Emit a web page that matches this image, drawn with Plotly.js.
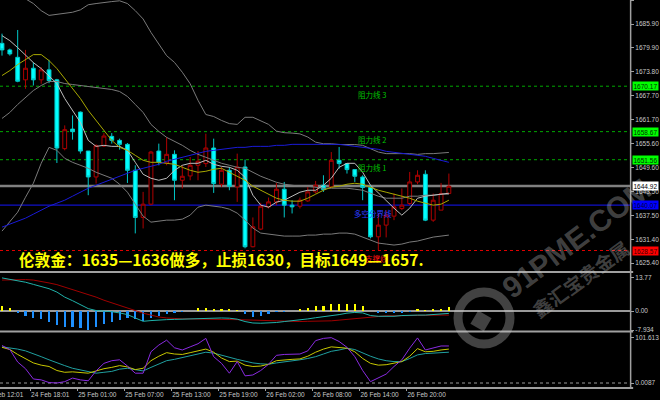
<!DOCTYPE html>
<html><head><meta charset="utf-8">
<script src="https://cdn.plot.ly/plotly-3.0.1.min.js"></script>
<style>html,body{margin:0;padding:0;background:#000;}</style>
</head><body><div id="chart" style="width:660px;height:400px;"></div>
<script>
// ---- candles (hourly) ----
const openP  = [1681.03,1679.36,1677.49,1671.79,1674.72,1671.79,1674.31,1671.79,1654.37,1659.31,1663.61,1653.76,1647.19,1655.02,1657.47,1656.46,1655.45,1648.88,1636.94,1640.30,1653.76,1650.73,1652.92,1646.36,1647.45,1650.15,1650.58,1654.52,1645.35,1648.88,1644.67,1649.72,1629.52,1633.99,1639.62,1640.88,1644.09,1640.05,1639.79,1641.13,1643.41,1645.10,1644.67,1651.41,1650.58,1649.06,1647.19,1644.52,1632.04,1635.00,1637.27,1639.21,1640.48,1645.93,1647.87,1636.26,1638.79,1643.00];
const highP  = [1683.48,1679.69,1684.41,1679.36,1676.23,1674.97,1676.84,1672.04,1660.25,1662.77,1663.78,1653.76,1655.45,1658.30,1658.30,1656.89,1655.78,1650.15,1643.41,1653.80,1655.63,1657.29,1653.94,1650.15,1652.24,1653.76,1658.15,1656.89,1649.72,1649.72,1653.10,1651.59,1636.94,1640.63,1641.99,1645.68,1645.93,1641.31,1641.99,1644.67,1646.18,1647.62,1653.50,1654.77,1650.58,1649.06,1647.62,1645.10,1637.95,1638.79,1643.00,1644.27,1648.46,1648.88,1648.88,1643.00,1645.68,1648.05];
const lowP   = [1677.92,1677.92,1671.18,1669.51,1670.35,1670.78,1670.93,1650.73,1653.94,1656.64,1653.10,1642.57,1645.52,1654.77,1655.63,1654.11,1645.68,1632.90,1634.16,1640.05,1650.15,1650.15,1641.31,1644.27,1646.36,1646.36,1649.72,1643.15,1644.67,1643.83,1640.88,1629.12,1629.37,1633.73,1639.21,1640.05,1636.94,1637.95,1639.21,1640.88,1643.00,1643.41,1644.52,1649.31,1648.05,1645.93,1641.31,1631.64,1628.69,1631.89,1636.26,1638.79,1640.05,1645.35,1636.01,1635.83,1638.79,1643.00];
const closeP = [1679.36,1678.35,1671.43,1674.72,1671.79,1674.31,1671.61,1654.52,1659.16,1658.66,1653.76,1647.19,1655.12,1657.55,1656.46,1655.45,1648.88,1636.94,1640.30,1653.50,1650.98,1652.92,1646.36,1647.37,1650.15,1651.16,1654.52,1645.53,1648.88,1644.84,1649.72,1629.52,1634.57,1639.79,1640.88,1644.09,1640.05,1639.62,1641.31,1643.41,1645.10,1644.01,1651.41,1650.58,1649.06,1647.37,1644.52,1632.04,1635.00,1637.52,1639.62,1640.05,1645.93,1647.62,1636.26,1641.31,1643.00,1644.84];

// ---- overlays on price panel ----
const bbUpper = [1694.0,1693.5,1693.0,1692.3,1691.1,1689.3,1688.1,1688.4,1688.6,1688.9,1689.5,1690.8,1691.1,1691.4,1691.6,1691.8,1691.1,1689.3,1687.2,1683.8,1680.9,1677.9,1676.2,1673.7,1670.8,1666.6,1663.0,1662.5,1661.5,1660.7,1660.5,1662.3,1662.3,1661.5,1660.5,1658.8,1658.4,1658.3,1658.1,1657.3,1656.0,1655.6,1655.6,1655.4,1655.4,1655.4,1655.2,1654.4,1653.5,1653.1,1653.1,1653.1,1653.1,1652.9,1653.1,1653.1,1653.3,1653.4];
const bbMid   = [1662.01,1663.53,1665.55,1667.32,1669.08,1670.35,1671.36,1671.36,1670.85,1670.60,1670.35,1670.09,1669.84,1669.59,1669.34,1668.83,1667.57,1665.55,1663.53,1660.50,1658.73,1657.22,1656.21,1655.20,1653.93,1652.92,1652.17,1651.41,1650.65,1650.15,1649.64,1649.39,1648.38,1647.37,1646.61,1645.85,1645.35,1645.10,1644.84,1644.84,1644.59,1644.34,1644.34,1644.34,1644.34,1644.09,1643.83,1643.08,1642.32,1641.81,1641.81,1641.81,1642.32,1642.32,1642.57,1642.57,1642.82,1642.82];
const bbLower = [1633.48,1635.75,1638.28,1642.07,1645.60,1650.65,1654.69,1653.93,1651.91,1650.90,1650.15,1649.39,1648.38,1647.62,1646.86,1645.35,1643.33,1640.30,1637.27,1635.75,1636.01,1636.26,1636.26,1636.51,1637.52,1639.54,1640.05,1639.79,1639.54,1639.04,1638.03,1636.26,1634.24,1632.98,1632.72,1632.47,1632.22,1632.22,1632.22,1632.47,1632.47,1632.72,1632.72,1632.98,1632.98,1632.72,1631.97,1631.21,1630.45,1630.20,1629.95,1630.20,1630.70,1630.96,1631.46,1631.97,1632.22,1632.47];
const maFast  = [1682.97,1681.71,1679.94,1678.17,1676.15,1674.64,1672.87,1670.85,1667.06,1664.03,1661.00,1656.46,1654.94,1655.20,1654.94,1654.94,1653.93,1650.90,1647.87,1646.86,1646.36,1646.86,1648.88,1650.15,1650.65,1650.65,1651.41,1650.40,1649.89,1649.64,1648.88,1647.12,1642.57,1640.05,1639.54,1640.80,1641.31,1642.32,1643.33,1643.83,1643.83,1645.10,1646.86,1649.64,1650.65,1650.65,1648.38,1645.10,1643.08,1641.31,1639.29,1637.52,1639.29,1641.81,1642.32,1642.57,1642.82,1643.08];
const maMid   = [1672.87,1674.13,1675.65,1676.91,1678.17,1678.17,1676.66,1674.64,1672.11,1669.59,1667.06,1664.03,1661.51,1658.98,1656.46,1654.69,1653.93,1652.67,1651.41,1650.90,1650.90,1650.65,1650.40,1649.64,1648.88,1648.38,1648.63,1649.14,1649.39,1648.38,1647.37,1646.36,1644.84,1643.83,1642.82,1641.81,1641.31,1641.06,1641.06,1641.81,1642.82,1643.83,1644.59,1644.84,1645.35,1645.60,1645.35,1644.59,1643.83,1643.33,1642.82,1642.32,1641.81,1641.06,1640.55,1640.05,1640.30,1641.31];
const maSlow  = [1634.49,1635.25,1636.01,1636.76,1637.77,1638.78,1639.79,1640.55,1641.31,1642.32,1643.33,1644.34,1645.10,1645.85,1646.61,1647.37,1648.13,1648.88,1649.39,1649.89,1650.40,1651.16,1651.66,1652.17,1652.67,1653.18,1653.68,1653.93,1654.19,1654.44,1654.69,1654.69,1654.94,1654.94,1654.94,1655.20,1655.20,1655.45,1655.45,1655.45,1655.45,1655.45,1655.45,1655.45,1655.20,1654.94,1654.69,1654.44,1654.19,1653.68,1653.43,1653.18,1652.92,1652.67,1652.42,1651.91,1651.41,1650.90];

// ---- MACD panel ----
const macdHist   = [2.2,1.1,-0.7,-2.0,-3.1,-3.5,-4.4,-5.8,-6.5,-6.5,-6.9,-7.93,-6.5,-5.6,-4.4,-3.75,-3.1,-3.5,-4.2,-3.1,-2.0,-1.4,-1.0,-0.6,0.1,1.1,1.4,0.8,0.8,0.7,0.5,-1.4,-2.3,-2.0,-1.4,-0.6,-0.3,0.1,0.8,1.4,2.2,1.9,2.8,2.9,2.9,2.8,2.0,0.1,-0.9,-1.0,-1.0,-0.8,-0.4,1.0,0.6,0.8,1.0,1.5];
const macdMain   = [13.8,13.3,12.8,12.0,11.1,10.2,9.3,7.9,5.8,4.3,2.5,1.0,0.2,0.0,-0.3,-0.8,-1.5,-2.9,-4.3,-4.0,-3.7,-3.6,-3.5,-3.4,-3.2,-2.9,-2.8,-2.8,-2.9,-3.0,-3.4,-4.4,-5.0,-5.1,-5.0,-4.8,-4.4,-4.1,-3.75,-3.3,-2.8,-2.4,-2.1,-1.5,-0.9,-0.6,-0.8,-1.9,-2.2,-2.3,-2.2,-1.9,-1.7,-1.7,-1.7,-1.5,-1.2,-1.0];
const macdSignal = [12.9,13.0,13.1,13.1,12.9,12.4,11.7,11.0,10.0,9.0,8.0,6.9,5.8,4.5,3.4,2.4,1.2,0.2,-0.9,-1.7,-2.5,-2.9,-3.2,-3.3,-3.3,-3.3,-3.3,-3.3,-3.4,-3.5,-3.6,-3.7,-3.8,-4.0,-4.2,-4.4,-4.4,-4.4,-4.4,-4.3,-4.3,-4.2,-4.1,-3.8,-3.5,-3.1,-2.8,-2.5,-2.2,-2.0,-2.0,-1.9,-1.8,-1.8,-1.7,-1.7,-1.7,-1.7];

// ---- oscillator panel ----
const oscFast = [84,75,47,32,9,7,1,0,3,11,7,5,27,44,50,52,38,22,22,70,85,96,79,74,81,88,100,59,44,22,48,16,18,28,42,62,64,64,65,72,95,100,101.6,93,80,59,28,3,12,20,37,52,78,101,74,78,83,83];
const oscMid  = [80,75,64,55,45,40,37,28,24,25,24,22,27,32,35,39,36,30,33,50,60,68,65,64,68,72,76,69,56,48,49,40,37,38,42,50,52,53,54,60,69,76,81,80,78,70,55,44,40,41,44,48,60,77,70,71,74,76];
const oscSlow = [81,79,76,72,66,59,52,45,39,33,29,26,22,24,26,31,33,30,27,35,42,50,53,57,60,65,69,67,62,57,53,49,45,43,42,45,47,50,52,55,59,65,71,74,78,75,67,60,54,50,48,48,55,63,66,67,68,69];

// ---- axes / labels ----
const timeTickBars = [4,10,16,22,28,34,40,46,52];
const timeTickText = ["24 Feb 18:01","25 Feb 01:00","25 Feb 07:00","25 Feb 13:00","25 Feb 19:00","26 Feb 02:00","26 Feb 08:00","26 Feb 14:00","26 Feb 20:00"];
const firstTimeLabel = "24 Feb 12:01";
const priceTicks = [1692.00,1685.90,1679.90,1673.80,1667.70,1661.70,1655.60,1649.60,1643.50,1637.50,1631.40,1625.40];
const macdTicks = [13.77,0,-7.934];
const macdTickText = ["13.77","0.00","-7.934"];
const oscTicks = [101.613,0.0087];
const oscTickText = ["101.613","0.0087"];

const levelVals  = [1670.17,1658.67,1651.56,1644.92,1640.07,1628.57];
const levelNames = ["阻力线 3","阻力线 2","阻力线 1","","多空分界线","支撑线"];
const noteText = "伦敦金：1635—1636做多，止损1630，目标1649—1657.";

// ---- styles ----
const levelStyle = [
  {c:'#00a800', w:1, d:'dot', bg:'#00ff00', tc:'#003000', lx:356},
  {c:'#00a800', w:1, d:'dot', bg:'#00ff00', tc:'#003000', lx:356},
  {c:'#00a800', w:1, d:'dot', bg:'#00ff00', tc:'#003000', lx:356},
  {c:'#808080', w:2.5, d:'solid', bg:'#ffffff', tc:'#000000', lx:0},
  {c:'#1010c8', w:1.2, d:'solid', bg:'#0000ff', tc:'#000040', lx:352},
  {c:'#e00000', w:1, d:'dot', bg:'#ff0000', tc:'#400000', lx:363}
];
const labelColor = ['#00c000','#00c000','#00c000','','#2a3cff','#ff1010'];

const xs = closeP.map((_, i) => i);
const PW = 630, PH = 388;
const tickFont = {family:'Liberation Sans, Arial, sans-serif', size:6.5, color:'#c8c8c8'};

const traces = [];
traces.push({type:'candlestick', x:xs, open:openP, high:highP, low:lowP, close:closeP,
  increasing:{line:{color:'#b00000', width:1}, fillcolor:'#000000'},
  decreasing:{line:{color:'#00c8c8', width:1}, fillcolor:'#00ffff'},
  whiskerwidth:0, xaxis:'x', yaxis:'y', hoverinfo:'skip'});
const lineDefs = [
  [bbUpper,'#7a7a7a',1],[bbMid,'#7a7a7a',1],[bbLower,'#7a7a7a',1],
  [maFast,'#bdbdbd',1],[maMid,'#a8a800',1],[maSlow,'#1a1ad8',1]
];
lineDefs.forEach(([arr,c,w]) => traces.push({type:'scatter', mode:'lines', x:xs, y:arr,
  line:{color:c, width:w}, xaxis:'x', yaxis:'y', hoverinfo:'skip'}));

traces.push({type:'bar', x:xs, y:macdHist, width:0.28,
  marker:{color:macdHist.map(v => v >= 0 ? '#ffff00' : '#1e90ff'), line:{width:0}},
  xaxis:'x', yaxis:'y2', hoverinfo:'skip'});
traces.push({type:'scatter', mode:'lines', x:xs, y:macdSignal, line:{color:'#a00000', width:1}, xaxis:'x', yaxis:'y2'});
traces.push({type:'scatter', mode:'lines', x:xs, y:macdMain, line:{color:'#20b2aa', width:1}, xaxis:'x', yaxis:'y2'});

traces.push({type:'scatter', mode:'lines', x:xs, y:oscSlow, line:{color:'#20a0a0', width:1}, xaxis:'x', yaxis:'y3'});
traces.push({type:'scatter', mode:'lines', x:xs, y:oscMid, line:{color:'#c8c800', width:1}, xaxis:'x', yaxis:'y3'});
traces.push({type:'scatter', mode:'lines', x:xs, y:oscFast, line:{color:'#8a2be2', width:1}, xaxis:'x', yaxis:'y3'});

const shapes = [];
levelVals.forEach((v,i) => shapes.push({type:'line', xref:'paper', x0:0, x1:1, yref:'y', y0:v, y1:v,
  line:{color:levelStyle[i].c, width:levelStyle[i].w, dash:levelStyle[i].d}, layer:'below'}));
shapes.push({type:'line', xref:'paper', x0:0, x1:1, yref:'y2', y0:0, y1:0, line:{color:'#9a9a9a', width:2}, layer:'below'});
shapes.push({type:'line', xref:'paper', x0:0, x1:1, yref:'y3', y0:oscTicks[1], y1:oscTicks[1], line:{color:'#9a9a9a', width:1, dash:'dot'}, layer:'below'});
// panel frame
[272, 331.5, 388].forEach(py => shapes.push({type:'line', xref:'paper', yref:'paper', x0:0, x1:1.005,
  y0:(PH-py)/PH, y1:(PH-py)/PH, line:{color:'#a0a0a0', width:2}}));
shapes.push({type:'line', xref:'paper', yref:'paper', x0:1.001, x1:1.001, y0:0, y1:1, line:{color:'#a0a0a0', width:1.5}});
// watermark logo
const wm = 'rgba(200,200,200,0.33)';
shapes.push({type:'circle', xref:'paper', yref:'paper', x0:458/PW, x1:510/PW, y0:(PH-344)/PH, y1:(PH-292)/PH,
  line:{color:wm, width:9}});
shapes.push({type:'path', xref:'paper', yref:'paper',
  path:`M ${491.6/PW} ${(PH-318.2)/PH} L ${478.2/PW} ${(PH-310.4)/PH} L ${470.4/PW} ${(PH-323.8)/PH} L ${483.8/PW} ${(PH-331.6)/PH} Z`,
  fillcolor:wm, line:{width:0}});

const ann = [];
// watermark text
ann.push({xref:'paper', yref:'paper', x:576/PW, y:(PH-238)/PH, xanchor:'center', yanchor:'middle', text:'91PME.COM',
  showarrow:false, textangle:-37, font:{family:'Liberation Sans, Arial', size:30, color:wm, weight:'bold'}});
ann.push({xref:'paper', yref:'paper', x:580/PW, y:(PH-278)/PH, xanchor:'center', yanchor:'middle', text:'鑫汇宝贵金属',
  showarrow:false, textangle:-36, font:{family:'Noto Sans CJK SC', size:19, color:wm, weight:'bold'}});
// level labels and right-axis price boxes
levelVals.forEach((v,i) => {
  if (levelNames[i]) ann.push({xref:'paper', yref:'y', x:levelStyle[i].lx/PW, y:v, xanchor:'left', yanchor:'top',
    text:levelNames[i], showarrow:false, yshift:-0.5, font:{family:'Noto Sans CJK SC', size:7.5, color:labelColor[i]}});
  ann.push({xref:'paper', yref:'y', x:1, y:v, xanchor:'left', yanchor:'middle', xshift:2, text:v.toFixed(2),
    showarrow:false, bgcolor:levelStyle[i].bg, borderpad:0.5,
    font:{family:'Liberation Sans, Arial', size:6.5, color:levelStyle[i].tc}});
});
ann.push({xref:'paper', yref:'paper', x:17/PW, y:(PH-258.5)/PH, xanchor:'left', yanchor:'middle', text:noteText,
  showarrow:false, font:{family:'Noto Sans CJK SC', size:15.6, color:'#ffff00', weight:'bold'}});
ann.push({xref:'paper', yref:'paper', x:-17/PW, y:(PH-394)/PH, xanchor:'left', yanchor:'middle', text:firstTimeLabel,
  showarrow:false, font:tickFont});

const layout = {
  width:660, height:400, paper_bgcolor:'#000', plot_bgcolor:'#000',
  margin:{l:0, r:30, t:0, b:12}, showlegend:false, hovermode:false, bargap:0,
  xaxis:{domain:[0,1], range:[-0.255,80.1], anchor:'y3', tickmode:'array',
    tickvals:timeTickBars.map(b => b - 0.35), ticktext:timeTickText, ticks:'outside', ticklen:2,
    tickcolor:'#a0a0a0', tickfont:tickFont, tickangle:0, ticklabelposition:'outside right',
    showgrid:false, zeroline:false, showline:false, rangeslider:{visible:false}, fixedrange:true},
  yaxis:{domain:[(PH-271)/PH,1], range:[1623.38,1692.0], side:'right', anchor:'x', tickmode:'array',
    tickvals:priceTicks, ticktext:priceTicks.map(v => v.toFixed(2)), ticks:'outside', ticklen:3,
    tickcolor:'#a0a0a0', tickfont:tickFont, showgrid:false, zeroline:false, showline:false},
  yaxis2:{domain:[(PH-331)/PH,(PH-273)/PH], range:[-8.34,15.85], side:'right', anchor:'x', tickmode:'array',
    tickvals:macdTicks, ticktext:macdTickText, ticks:'outside', ticklen:3, tickcolor:'#a0a0a0',
    tickfont:tickFont, showgrid:false, zeroline:false, showline:false},
  yaxis3:{domain:[0,(PH-332)/PH], range:[-11.2,114.3], side:'right', anchor:'x', tickmode:'array',
    tickvals:oscTicks, ticktext:oscTickText, ticks:'outside', ticklen:3, tickcolor:'#a0a0a0',
    tickfont:tickFont, showgrid:false, zeroline:false, showline:false},
  shapes:shapes, annotations:ann
};
Plotly.newPlot('chart', traces, layout, {staticPlot:true, displayModeBar:false});
</script>
</body></html>
